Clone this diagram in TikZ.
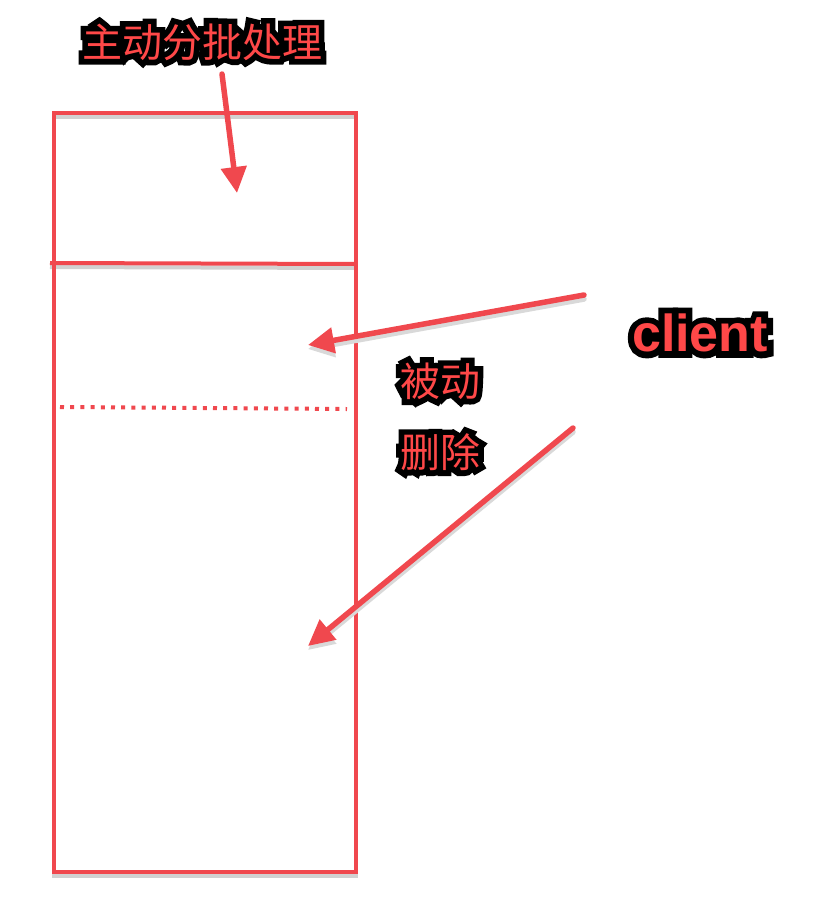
\documentclass[tikz,border=0pt]{standalone}
\usepackage{fontspec}
\setmainfont{Liberation Sans}
\newfontfamily\cjk{Noto Sans CJK SC}
\newfontfamily\cjkout[FakeBold=28]{Noto Sans CJK SC}
\newfontfamily\latout[FakeBold=24]{Liberation Sans Bold}
\newfontfamily\lat{Liberation Sans Bold}
\usetikzlibrary{arrows.meta}
\definecolor{rline}{RGB}{240,72,78}
\definecolor{rtext}{RGB}{255,72,72}
\begin{document}
\begin{tikzpicture}[x=1pt,y=-1pt,
  box/.style={draw=rline,line width=4pt},
  shadowline/.style={draw=black!18,line width=4pt},
  arr/.style={draw=rline,line width=5.5pt,line cap=round,-{Triangle[length=26pt,width=25pt]}},
  arrshadow/.style={draw=black!15,line width=5.5pt,line cap=round,-{Triangle[length=26pt,width=25pt]}},
  lbl/.style={inner sep=0pt,text=rtext,font=\cjk\fontsize{40}{44}\selectfont},
  lblout/.style={inner sep=0pt,text=black,font=\cjkout\fontsize{40}{44}\selectfont},
  clbl/.style={inner sep=0pt,text=rtext,font=\lat\fontsize{52}{56}\selectfont},
  clblout/.style={inner sep=0pt,text=black,font=\latout\fontsize{52}{56}\selectfont}]
\useasboundingbox[fill=white] (0,0) rectangle (832,922);
% shadows
\draw[shadowline] (54,117) rectangle (356,876);
\draw[shadowline] (50,267) -- (356,268);
% container
\draw[box] (54,113) rectangle (356,872);
\draw[box] (50,263) -- (356,264);
\draw[draw=rline,line width=4pt,dash pattern=on 4pt off 6.2pt] (60,407) -- (347,409);
% label outlines
\node[lblout] (topo) at (202,42) {主动分批处理};
\node[clblout] (cliento) at (700,333) {client};
\node[lblout] (bdo) at (440,381) {被动};
\node[lblout] (sco) at (440,452) {删除};
% labels
\node[lbl] (top) at (202,42) {主动分批处理};
\node[clbl] (client) at (700,333) {client};
\node[lbl] (bd) at (440,381) {被动};
\node[lbl] (sc) at (440,452) {删除};
% arrow coordinates
\coordinate (a1s) at (222,74);
\coordinate (a1e) at (237,193);
\coordinate (a2s) at (584,295);
\coordinate (a2e) at (308,345);
\coordinate (a3s) at (573,428);
\coordinate (a3e) at (308,646);
% arrow shadows
\draw[arrshadow,transform canvas={yshift=-4pt}] (a2s) -- (a2e);
\draw[arrshadow,transform canvas={yshift=-4pt}] (a3s) -- (a3e);
% arrows
\draw[arr] (a1s) -- (a1e);
\draw[arr] (a2s) -- (a2e);
\draw[arr] (a3s) -- (a3e);
\end{tikzpicture}
\end{document}
